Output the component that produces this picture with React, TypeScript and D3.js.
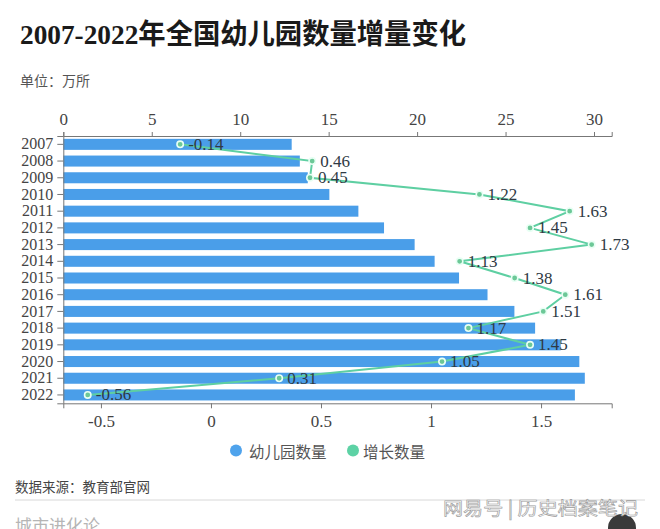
import React, { useEffect, useRef } from "react";
import * as d3 from "d3";

const years = ["2007","2008","2009","2010","2011","2012","2013","2014","2015","2016","2017","2018","2019","2020","2021","2022"];
const counts = [12.91,13.37,13.82,15.04,16.68,18.13,19.86,20.99,22.37,23.98,25.50,26.67,28.12,29.17,29.48,28.92];
const increases = [-0.14,0.46,0.45,1.22,1.63,1.45,1.73,1.13,1.38,1.61,1.51,1.17,1.45,1.05,0.31,-0.56];
const topTicks = [0,5,10,15,20,25,30];
const bottomTicks = [-0.5,0,0.5,1,1.5];
const countDomain = [0, 31];
const incDomain = [-0.671, 1.821];

const FONT = '"Liberation Serif", "Noto Sans CJK SC", serif';
const CJK = '"Noto Sans CJK SC", sans-serif';
const BLUE = "#4a9ee9";
const GREEN = "#5ecfa2";
const DOT = "#6cc897";

export default function App() {
  const ref = useRef<SVGSVGElement>(null);
  useEffect(() => {
    const svg = d3.select(ref.current);
    svg.selectAll("*").remove();
    const left = 63.3, right = 611.7, top = 136, bottom = 403.3;
    const x = d3.scaleLinear().domain(countDomain).range([left, right]);
    const x2 = d3.scaleLinear().domain(incDomain).range([left, right]);
    const y = d3.scaleBand().domain(years).range([top, bottom]).paddingInner(0.34).paddingOuter(0.17);

    svg.append("text").attr("x", 20).attr("y", 43.5).attr("font-family", FONT).attr("font-weight", "bold")
      .attr("font-size", 28).attr("fill", "#1a1a1a").attr("textLength", 446).attr("lengthAdjust", "spacingAndGlyphs")
      .text("2007-2022年全国幼儿园数量增量变化");
    svg.append("text").attr("x", 20).attr("y", 86).attr("font-family", CJK).attr("font-size", 14).attr("fill", "#555")
      .text("单位：万所");

    // bars
    svg.append("g").selectAll("rect").data(years).join("rect")
      .attr("x", x(0)).attr("y", d => y(d)!).attr("height", y.bandwidth())
      .attr("width", (d, i) => x(counts[i]) - x(0)).attr("fill", BLUE);

    const styleAxis = (size: number) => (g: any) => {
      g.select(".domain").attr("stroke", "#777");
      g.selectAll(".tick line").attr("stroke", "#777");
      g.selectAll(".tick text").attr("fill", "#444").attr("font-family", FONT).attr("font-size", size);
    };
    svg.append("g").attr("transform", `translate(0,${top})`)
      .call(d3.axisTop(x).tickValues(topTicks).tickSizeOuter(0).tickSize(4).tickPadding(7).tickFormat(d3.format("d")))
      .call(styleAxis(17));
    svg.append("g").attr("transform", `translate(0,${bottom})`)
      .call(d3.axisBottom(x2).tickValues(bottomTicks).tickSizeOuter(0).tickSize(5).tickPadding(7).tickFormat(d => String(d)))
      .call(styleAxis(17));
    svg.append("g").attr("transform", `translate(${left},0)`)
      .call(d3.axisLeft(y).tickSizeOuter(0).tickSize(6).tickPadding(4))
      .call(styleAxis(16));

    // line
    const line = d3.line<number>().x(d => x2(d)).y((d, i) => y(years[i])! + y.bandwidth() / 2);
    svg.append("path").datum(increases).attr("d", line).attr("fill", "none").attr("stroke", GREEN).attr("stroke-width", 2);
    svg.append("g").selectAll("circle").data(increases).join("circle")
      .attr("cx", d => x2(d)).attr("cy", (d, i) => y(years[i])! + y.bandwidth() / 2)
      .attr("r", 3.2).attr("fill", DOT).attr("stroke", "#e8fff4").attr("stroke-width", 1.6);
    svg.append("g").selectAll("text").data(increases).join("text")
      .attr("x", d => x2(d) + 8).attr("y", (d, i) => y(years[i])! + y.bandwidth() / 2)
      .attr("dominant-baseline", "central").attr("font-family", FONT).attr("font-size", 17).attr("fill", "#2f3a44")
      .text(d => d.toFixed(2));

    // legend
    const lg = svg.append("g");
    lg.append("circle").attr("cx", 236).attr("cy", 450.5).attr("r", 6).attr("fill", "#4fa3ec");
    lg.append("text").attr("x", 249).attr("y", 450.5).attr("dominant-baseline", "central").attr("font-family", CJK)
      .attr("font-size", 15.5).attr("fill", "#555").text("幼儿园数量");
    lg.append("circle").attr("cx", 353).attr("cy", 450.5).attr("r", 6).attr("fill", "#5dd2a5");
    lg.append("text").attr("x", 363).attr("y", 450.5).attr("dominant-baseline", "central").attr("font-family", CJK)
      .attr("font-size", 15.5).attr("fill", "#555").text("增长数量");

    // footer
    svg.append("text").attr("x", 15).attr("y", 492).attr("font-family", CJK).attr("font-size", 13.5).attr("fill", "#444")
      .text("数据来源：教育部官网");
    svg.append("line").attr("x1", 15).attr("x2", 645).attr("y1", 500).attr("y2", 500).attr("stroke", "#d8d8d8");
    svg.append("text").attr("x", 15).attr("y", 532).attr("font-family", CJK).attr("font-size", 17).attr("fill", "#b5b5b5")
      .text("城市进化论");
    svg.append("circle").attr("cx", 622).attr("cy", 528).attr("r", 14).attr("fill", "#3a3a3a");
    svg.append("text").attr("x", 443).attr("y", 515).attr("font-family", CJK).attr("font-size", 18).attr("fill", "#fafafa")
      .attr("stroke", "#9a9a9a").attr("stroke-width", 0.6).attr("textLength", 195).attr("lengthAdjust", "spacingAndGlyphs")
      .text("网易号 | 历史档案笔记");
  }, []);
  return (
    <svg ref={ref} width={660} height={529} style={{ position: "absolute", left: 0, top: 0, background: "#fff", display: "block" }} />
  );
}
